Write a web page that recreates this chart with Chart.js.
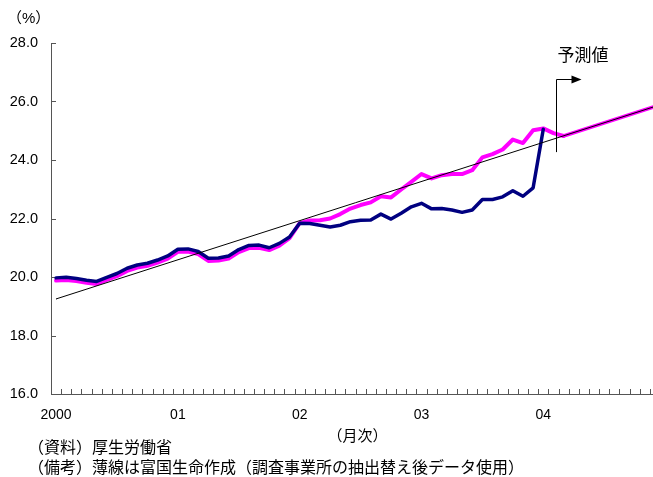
<!DOCTYPE html>
<html>
<head>
<meta charset="utf-8">
<script src="https://cdn.jsdelivr.net/npm/chart.js@4.4.0/dist/chart.umd.min.js"></script>
<style>
html, body { margin: 0; padding: 0; background: #fff; overflow: hidden; }
#wrap { position: relative; width: 662px; height: 477px; }
</style>
</head>
<body>
<div id="wrap"><canvas id="chart" width="662" height="477"></canvas></div>
<script>
'use strict';

//axis labels
var years = ['2000', '01', '02', '03', '04']
var yTicks = [16, 18, 20, 22, 24, 26, 28]

//old sample (navy), Jan 2000 .. Jan 2004
var oldSample = [
    19.97, 19.99, 19.95, 19.89, 19.85, 19.99, 20.12, 20.30, 20.41, 20.47, 20.58, 20.72,
    20.95, 20.96, 20.87, 20.64, 20.65, 20.72, 20.94, 21.08, 21.09, 21.00, 21.15, 21.37,
    21.84, 21.83, 21.77, 21.71, 21.77, 21.89, 21.94, 21.95, 22.15, 21.98, 22.18, 22.40,
    22.52, 22.33, 22.34, 22.29, 22.21, 22.29, 22.65, 22.65, 22.74, 22.95, 22.76, 23.05,
    25.05
]

//new sample (magenta), Jan 2000 .. Mar 2004
var newSample = [
    19.88, 19.90, 19.86, 19.80, 19.76, 19.90, 20.03, 20.21, 20.32, 20.38, 20.49, 20.63,
    20.86, 20.87, 20.78, 20.55, 20.56, 20.63, 20.85, 20.99, 21.00, 20.92, 21.07, 21.33,
    21.84, 21.93, 21.94, 22.00, 22.15, 22.34, 22.46, 22.55, 22.76, 22.72, 22.99, 23.25,
    23.52, 23.37, 23.48, 23.52, 23.52, 23.65, 24.09, 24.20, 24.36, 24.70, 24.58, 25.02,
    25.08, 24.92, 24.82
]

//forecast: Mar 2004 -> Dec 2004
var forecastStart = 24.82
var forecastEnd = 25.83

//thin trend line: Jan 2000 -> Dec 2004
var trendStart = 19.25
var trendEnd = 25.83

var months = []
years.forEach(function (y) {
    for (let m = 1; m <= 12; m++) months.push(y + '/' + m)
})
var n = months.length

function pad(arr) {
    let out = arr.slice()
    while (out.length < n) out.push(null)
    return out
}

var trendData = pad([])
trendData[0] = trendStart
trendData[n - 1] = trendEnd

var forecastData = pad([])
forecastData[newSample.length - 1] = forecastStart
forecastData[n - 1] = forecastEnd

var JP = '"Liberation Sans", "Noto Sans CJK JP", sans-serif'

var extras = {
    id: 'extras',
    beforeDatasetsDraw(chart) {
        let ctx = chart.ctx
        let xs = chart.scales.x, ys = chart.scales.y
        let a = chart.chartArea
        let step = xs.getPixelForValue(1) - xs.getPixelForValue(0)
        ctx.save()
        ctx.strokeStyle = '#555'
        ctx.lineWidth = 1
        ctx.beginPath()
        ctx.moveTo(a.left + 0.5, a.top)
        ctx.lineTo(a.left + 0.5, a.bottom + 0.5)
        ctx.lineTo(a.right, a.bottom + 0.5)
        yTicks.forEach(function (v) {
            let y = Math.round(ys.getPixelForValue(v)) + 0.5
            ctx.moveTo(a.left, y)
            ctx.lineTo(a.left + 5, y)
        })
        for (let i = 0; i <= n; i++) {
            let x = Math.round(xs.getPixelForValue(i) - step / 2) + 0.5
            ctx.moveTo(x, a.bottom)
            ctx.lineTo(x, a.bottom - 5)
        }
        ctx.stroke()
        ctx.restore()
    },
    afterDatasetsDraw(chart) {
        let ctx = chart.ctx
        let xs = chart.scales.x, ys = chart.scales.y
        let a = chart.chartArea
        ctx.save()
        ctx.fillStyle = '#000'
        ctx.textBaseline = 'middle'

        //forecast marker
        let ax = Math.round(xs.getPixelForValue(newSample.length - 2) + 3) + 0.5
        let top = Math.round(ys.getPixelForValue(26.76)) + 0.5
        let bot = ys.getPixelForValue(24.27)
        ctx.strokeStyle = '#000'
        ctx.lineWidth = 1
        ctx.beginPath()
        ctx.moveTo(ax, bot)
        ctx.lineTo(ax, top)
        ctx.lineTo(ax + 16, top)
        ctx.stroke()
        ctx.beginPath()
        ctx.moveTo(ax + 15, top - 4)
        ctx.lineTo(ax + 25, top)
        ctx.lineTo(ax + 15, top + 4)
        ctx.closePath()
        ctx.fill()

        ctx.font = '17px ' + JP
        ctx.textAlign = 'left'
        ctx.fillText('予測値', ax + 1, top - 23)

        //unit
        ctx.font = '15px ' + JP
        ctx.fillText('（%）', 7, 19)

        //x title and notes
        ctx.textAlign = 'center'
        ctx.fillText('（月次）', (a.left + a.right) / 2 + 2, 437)
        ctx.textAlign = 'left'
        ctx.font = '16px ' + JP
        ctx.fillText('（資料）厚生労働省', 28, 449)
        ctx.fillText('（備考）薄線は富国生命作成（調査事業所の抽出替え後データ使用）', 28, 469)
        ctx.restore()
    }
}

var config = {
    type: 'line',
    data: {
        labels: months,
        datasets: [
            { label: 'trend', data: trendData, borderColor: '#000', borderWidth: 1, spanGaps: true },
            { label: 'old', data: pad(oldSample), borderColor: '#000080', borderWidth: 3.5 },
            { label: 'new', data: pad(newSample), borderColor: '#ff00ff', borderWidth: 4 },
            { label: 'forecast', data: forecastData, borderColor: '#ff00ff', borderWidth: 3.5, spanGaps: true }
        ]
    },
    options: {
        responsive: false,
        animation: false,
        devicePixelRatio: 1,
        layout: { padding: { top: 43, right: 2, left: 0, bottom: 0 } },
        elements: {
            point: { radius: 0 },
            line: { tension: 0, borderJoinStyle: 'round', borderCapStyle: 'round' }
        },
        plugins: { legend: { display: false }, tooltip: { enabled: false } },
        scales: {
            x: {
                type: 'category',
                offset: true,
                grid: { display: false },
                border: { display: false },
                ticks: {
                    autoSkip: false,
                    maxRotation: 0,
                    padding: 5,
                    color: '#000',
                    font: { family: '"Liberation Sans", sans-serif', size: 14 },
                    callback: function (v, i) { return i % 12 === 0 ? years[i / 12] : '' }
                },
                afterFit: function (s) { s.height = 83 }
            },
            y: {
                min: 16,
                max: 28,
                grid: { display: false },
                border: { display: false },
                ticks: {
                    stepSize: 2,
                    padding: 5,
                    color: '#000',
                    font: { family: '"Liberation Sans", sans-serif', size: 14.5 },
                    callback: function (v) { return v.toFixed(1) }
                },
                afterFit: function (s) { s.width = 51 }
            }
        }
    },
    plugins: [extras]
}

new Chart(document.getElementById('chart'), config)
</script>
</body>
</html>
